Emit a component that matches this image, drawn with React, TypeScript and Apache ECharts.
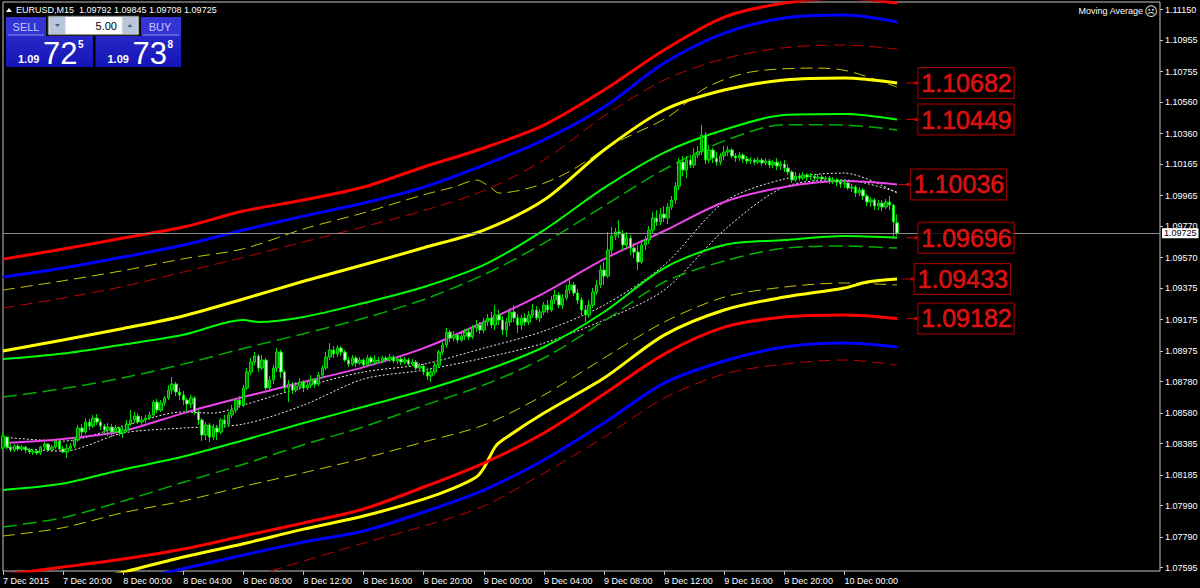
import React, { useEffect, useRef } from "react";
import * as echarts from "echarts";

// ---- axis data ----
const timeLabels = ["7 Dec 2015", "7 Dec 20:00", "8 Dec 00:00", "8 Dec 04:00", "8 Dec 08:00", "8 Dec 12:00", "8 Dec 16:00", "8 Dec 20:00", "9 Dec 00:00", "9 Dec 04:00", "9 Dec 08:00", "9 Dec 12:00", "9 Dec 16:00", "9 Dec 20:00", "10 Dec 00:00"];
const barsPerLabel = 16;
const slotCount = 309; // bars + empty right shift
const priceTicks = [1.1115, 1.10955, 1.10755, 1.1056, 1.1036, 1.10165, 1.09965, 1.0977, 1.0957, 1.09375, 1.09175, 1.08975, 1.0878, 1.0858, 1.08385, 1.08185, 1.0799, 1.0779, 1.07595];
const priceMin = 1.07573;
const priceMax = 1.11198;

// ---- candles: [open, close, low, high] ----
const candles = [
[1.08356,1.08433,1.08344,1.08452],[1.08426,1.08363,1.0835,1.08433],[1.08363,1.08344,1.08331,1.08382],[1.08344,1.08369,1.08331,1.08382],[1.08369,1.0835,1.08337,1.08382],
[1.0835,1.08363,1.08337,1.08376],[1.08363,1.08344,1.08325,1.08369],[1.08344,1.08331,1.08318,1.08356],[1.08331,1.08337,1.08312,1.0835],[1.08337,1.08325,1.08312,1.08344],
[1.08325,1.08363,1.08312,1.08369],[1.08363,1.08382,1.08344,1.08395],[1.08382,1.08344,1.08331,1.08388],[1.08344,1.08363,1.08331,1.08376],[1.08363,1.08401,1.0835,1.08414],
[1.08401,1.0835,1.08337,1.08407],[1.0835,1.08331,1.08325,1.08369],[1.08331,1.08356,1.08293,1.08382],[1.08356,1.08369,1.08337,1.08388],[1.08369,1.08407,1.08356,1.0842],
[1.08407,1.08484,1.08395,1.08503],[1.08484,1.08458,1.08433,1.08509],[1.08458,1.08522,1.08445,1.08547],[1.08522,1.08496,1.08471,1.08541],[1.08496,1.08547,1.08484,1.08567],
[1.08547,1.08522,1.08503,1.08573],[1.08522,1.08496,1.08471,1.08535],[1.08496,1.08471,1.08445,1.08509],[1.08471,1.0849,1.08433,1.08516],[1.0849,1.08458,1.08426,1.08509],
[1.08458,1.08484,1.08452,1.08503],[1.08484,1.08452,1.08433,1.0849],[1.08452,1.08471,1.0842,1.08496],[1.08471,1.08509,1.08458,1.08535],[1.08509,1.08535,1.08496,1.08598],
[1.08535,1.0856,1.08516,1.08586],[1.0856,1.08522,1.08509,1.08579],[1.08522,1.08535,1.08503,1.0856],[1.08535,1.08547,1.08516,1.08567],[1.08547,1.08567,1.08535,1.08586],
[1.08567,1.08649,1.08547,1.08662],[1.08649,1.08598,1.08579,1.08669],[1.08598,1.08643,1.08586,1.08662],[1.08643,1.08675,1.08624,1.08688],[1.08675,1.08726,1.08662,1.08758],
[1.08726,1.08764,1.087,1.08809],[1.08764,1.08713,1.08688,1.08777],[1.08713,1.08694,1.08662,1.08739],[1.08694,1.08662,1.0863,1.0872],[1.08662,1.08637,1.08586,1.08675],
[1.08637,1.08675,1.08611,1.08694],[1.08675,1.08586,1.08567,1.08688],[1.08586,1.08535,1.08503,1.08598],[1.08535,1.08439,1.08401,1.08547],[1.08439,1.08503,1.08407,1.08522],
[1.08503,1.08426,1.08395,1.08516],[1.08426,1.08484,1.08407,1.08509],[1.08484,1.08458,1.08407,1.08503],[1.08458,1.08535,1.08445,1.08547],[1.08535,1.08509,1.08484,1.08567],
[1.08509,1.08567,1.08496,1.08586],[1.08567,1.08598,1.08547,1.0863],[1.08598,1.08662,1.08579,1.08675],[1.08662,1.0863,1.08611,1.08688],[1.0863,1.08739,1.08617,1.08758],
[1.08739,1.08841,1.08726,1.08866],[1.08841,1.08904,1.08821,1.0893],[1.08904,1.08943,1.08885,1.08968],[1.08943,1.08866,1.08841,1.08955],[1.08866,1.08917,1.08853,1.08949],
[1.08917,1.08739,1.08726,1.0893],[1.08739,1.0879,1.08713,1.08815],[1.0879,1.08866,1.08764,1.08885],[1.08866,1.08968,1.08841,1.08994],[1.08968,1.08841,1.08802,1.08981],
[1.08841,1.08739,1.08713,1.08853],[1.08739,1.08764,1.08649,1.0879],[1.08764,1.08726,1.087,1.08777],[1.08726,1.08751,1.08713,1.08777],[1.08751,1.08777,1.08726,1.08802],
[1.08777,1.08739,1.08713,1.0879],[1.08739,1.08758,1.08726,1.08783],[1.08758,1.0879,1.08739,1.08821],[1.0879,1.08764,1.08739,1.08802],[1.08764,1.08821,1.08751,1.08841],
[1.08821,1.08866,1.08802,1.08885],[1.08866,1.08936,1.08853,1.08968],[1.08936,1.08981,1.08917,1.09025],[1.08981,1.08955,1.0893,1.09006],[1.08955,1.08994,1.08936,1.09013],
[1.08994,1.08968,1.08943,1.09006],[1.08968,1.08917,1.08904,1.08981],[1.08917,1.08891,1.08872,1.08936],[1.08891,1.0893,1.08879,1.08949],[1.0893,1.08898,1.08872,1.08943],
[1.08898,1.08917,1.08885,1.08936],[1.08917,1.08885,1.08872,1.0893],[1.08885,1.0893,1.08872,1.08949],[1.0893,1.08904,1.08891,1.08943],[1.08904,1.08917,1.08891,1.08949],
[1.08917,1.08911,1.08898,1.08936],[1.08911,1.0893,1.08898,1.08943],[1.0893,1.08917,1.08904,1.08943],[1.08917,1.08936,1.08904,1.08955],[1.08936,1.08911,1.08898,1.08949],
[1.08911,1.08923,1.08891,1.08943],[1.08923,1.08904,1.08885,1.08936],[1.08904,1.08917,1.08891,1.08936],[1.08917,1.08891,1.08879,1.0893],[1.08891,1.08904,1.08879,1.08923],
[1.08904,1.08866,1.08853,1.08917],[1.08866,1.08879,1.08847,1.08898],[1.08879,1.08841,1.08821,1.08891],[1.08841,1.08815,1.0879,1.08866],[1.08815,1.08841,1.08777,1.08866],
[1.08841,1.08885,1.08821,1.08904],[1.08885,1.08968,1.08866,1.08981],[1.08968,1.09013,1.08949,1.09032],[1.09013,1.09095,1.08994,1.09121],[1.09095,1.09057,1.09032,1.09108],
[1.09057,1.09076,1.09038,1.09102],[1.09076,1.09044,1.09025,1.09089],[1.09044,1.0907,1.09032,1.09095],[1.0907,1.09095,1.09044,1.09115],[1.09095,1.09064,1.09044,1.09121],
[1.09064,1.09121,1.09051,1.0914],[1.09121,1.0914,1.09095,1.09172],[1.0914,1.09108,1.09083,1.09159],[1.09108,1.09159,1.09089,1.09185],[1.09159,1.09185,1.09134,1.0921],
[1.09185,1.0914,1.09121,1.09223],[1.0914,1.09204,1.09108,1.09267],[1.09204,1.09172,1.0914,1.09236],[1.09172,1.09108,1.09076,1.09197],[1.09108,1.09159,1.09064,1.09185],
[1.09159,1.09223,1.09134,1.09248],[1.09223,1.09185,1.09159,1.09267],[1.09185,1.0914,1.09089,1.0921],[1.0914,1.09185,1.09108,1.09204],[1.09185,1.09159,1.09134,1.09216],
[1.09159,1.09204,1.0914,1.09229],[1.09204,1.09236,1.09185,1.09274],[1.09236,1.09185,1.09172,1.09261],[1.09185,1.09223,1.09159,1.09242],[1.09223,1.09267,1.09204,1.09287],
[1.09267,1.09236,1.09216,1.09299],[1.09236,1.09299,1.09223,1.09325],[1.09299,1.09331,1.09274,1.09363],[1.09331,1.09267,1.09248,1.0935],[1.09267,1.09312,1.09242,1.09338],
[1.09312,1.09363,1.09299,1.09395],[1.09363,1.09395,1.09338,1.09427],[1.09395,1.09344,1.09325,1.09414],[1.09344,1.09299,1.09274,1.09369],[1.09299,1.09236,1.09204,1.09318],
[1.09236,1.09204,1.09159,1.09267],[1.09204,1.09267,1.09185,1.09299],[1.09267,1.0935,1.09248,1.09376],[1.0935,1.09395,1.09331,1.09427],[1.09395,1.0949,1.09376,1.09522],
[1.0949,1.09452,1.09395,1.09541],[1.09452,1.09618,1.09439,1.09733],[1.09618,1.09707,1.09586,1.09764],[1.09707,1.09733,1.09682,1.09758],[1.09733,1.0972,1.09694,1.09809],
[1.0972,1.0965,1.09618,1.09745],[1.0965,1.09694,1.09631,1.09733],[1.09694,1.09631,1.09586,1.09713],[1.09631,1.09605,1.09567,1.09662],[1.09605,1.09541,1.0949,1.0965],
[1.09541,1.0965,1.09529,1.09682],[1.0965,1.09682,1.09618,1.09707],[1.09682,1.09745,1.09656,1.09771],[1.09745,1.09822,1.0972,1.0986],[1.09822,1.09796,1.09771,1.09873],
[1.09796,1.09847,1.09777,1.09885],[1.09847,1.09822,1.09796,1.09898],[1.09822,1.09892,1.09783,1.09917],[1.09892,1.09936,1.09873,1.09962],[1.09936,1.10025,1.09911,1.10051],
[1.10025,1.10178,1.1,1.10204],[1.10178,1.10127,1.10089,1.10217],[1.10127,1.10191,1.10076,1.10217],[1.10191,1.10159,1.1014,1.10223],[1.10159,1.10223,1.1014,1.10268],
[1.10223,1.10242,1.10204,1.1028],[1.10242,1.1035,1.10223,1.10414],[1.1035,1.10191,1.10166,1.1037],[1.10191,1.10255,1.10172,1.10287],[1.10255,1.10204,1.10172,1.10268],
[1.10204,1.10178,1.10153,1.10242],[1.10178,1.10217,1.10159,1.10236],[1.10217,1.10242,1.10191,1.1028],[1.10242,1.10255,1.10217,1.1028],[1.10255,1.10217,1.10204,1.10268],
[1.10217,1.10204,1.10178,1.10236],[1.10204,1.10223,1.10185,1.10242],[1.10223,1.10198,1.10172,1.10236],[1.10198,1.10185,1.10166,1.10217],[1.10185,1.10191,1.10166,1.1021],
[1.10191,1.10178,1.10159,1.10204],[1.10178,1.10191,1.10166,1.1021],[1.10191,1.10172,1.10153,1.10204],[1.10172,1.10185,1.10159,1.10204],[1.10185,1.10159,1.1014,1.10198],
[1.10159,1.10178,1.1014,1.10191],[1.10178,1.10153,1.10127,1.10204],[1.10153,1.10166,1.10127,1.10185],[1.10166,1.1014,1.10115,1.10191],[1.1014,1.10115,1.10096,1.10166],
[1.10115,1.10064,1.10045,1.10127],[1.10064,1.10089,1.10051,1.10115],[1.10089,1.10076,1.10057,1.10108],[1.10076,1.10096,1.10064,1.10115],[1.10096,1.10083,1.10057,1.10108],
[1.10083,1.10089,1.10064,1.10108],[1.10089,1.10076,1.10057,1.10102],[1.10076,1.10083,1.10057,1.10102],[1.10083,1.1007,1.10051,1.10096],[1.1007,1.10076,1.10051,1.10089],
[1.10076,1.10057,1.10038,1.10089],[1.10057,1.10064,1.10038,1.10083],[1.10064,1.10051,1.10025,1.10076],[1.10051,1.10038,1.10013,1.1007],[1.10038,1.10045,1.10013,1.10064],
[1.10045,1.10013,1.1,1.10057],[1.10013,1.10019,1.09987,1.10038],[1.10019,1.09981,1.09955,1.10032],[1.09981,1.1,1.09962,1.10019],[1.1,1.09962,1.09936,1.10013],
[1.09962,1.09924,1.09898,1.09975],[1.09924,1.09936,1.09892,1.09955],[1.09936,1.09898,1.09873,1.09949],[1.09898,1.09917,1.09873,1.09936],[1.09917,1.09892,1.09866,1.09936],
[1.09892,1.09924,1.09879,1.09943],[1.09924,1.09904,1.09873,1.09962],[1.09904,1.09796,1.09701,1.09911],[1.09792,1.09725,1.09708,1.09845]
];
const askPrice = 1.09738;
const lotSize = "5.00";

// ---- indicator lines: [bar index, price] ----
const upperRedThick = [[0,1.0956],[16,1.09624],[32,1.09694],[48,1.09764],[64,1.09866],[80,1.09936],[96,1.10019],[112,1.10147],[128,1.10268],[144,1.10414],[160,1.10637],[176,1.10892],[192,1.11102],[208,1.11191],[224,1.11223],[238,1.11191]];
const upperBlueThick = [[0,1.09446],[16,1.09503],[32,1.09573],[48,1.0965],[64,1.09745],[80,1.09834],[96,1.09917],[112,1.10019],[128,1.10159],[144,1.10319],[160,1.10529],[176,1.10809],[192,1.11],[208,1.11096],[224,1.11115],[238,1.11071]];
const upperRedDash = [[0,1.09248],[16,1.09312],[32,1.09386],[48,1.09478],[64,1.09571],[80,1.09669],[96,1.09766],[112,1.09869],[128,1.09996],[144,1.10193],[160,1.10471],[176,1.10701],[192,1.10837],[208,1.10907],[224,1.10924],[238,1.10898]];
const upperYellowDash = [[0,1.09363],[16,1.09422],[32,1.09487],[48,1.09562],[64,1.09626],[80,1.09752],[96,1.09855],[112,1.0997],[120,1.10019],[126,1.10064],[130,1.10013],[132,1.09981],[141,1.10019],[150,1.10108],[163,1.103],[177,1.10465],[187,1.1065],[199,1.10752],[217,1.10777],[225,1.10758],[238,1.10656]];
const upperYellowThick = [[0,1.08974],[16,1.09045],[32,1.09118],[48,1.09198],[64,1.09306],[80,1.09419],[96,1.09524],[112,1.09632],[128,1.09745],[144,1.09936],[160,1.10255],[176,1.1051],[192,1.10637],[208,1.10701],[224,1.10714],[238,1.10682]];
const upperGreenDash = [[0,1.08681],[16,1.08735],[32,1.08804],[48,1.08891],[64,1.08991],[80,1.09085],[96,1.09183],[112,1.09303],[128,1.0946],[144,1.09662],[160,1.09899],[176,1.10131],[192,1.10313],[208,1.10416],[224,1.10414],[238,1.10382]];
const upperGreenThick = [[0,1.08923],[16,1.08958],[32,1.09016],[48,1.09078],[64,1.09172],[68,1.09159],[80,1.09191],[96,1.0928],[112,1.09382],[128,1.09523],[144,1.09745],[160,1.10014],[176,1.10239],[192,1.10384],[208,1.10478],[224,1.10484],[238,1.10449]];
const movingAverage = [[0,1.08388],[16,1.08414],[32,1.08465],[48,1.08579],[64,1.08681],[80,1.08777],[96,1.08872],[112,1.08993],[128,1.09159],[144,1.09344],[160,1.0956],[176,1.09739],[192,1.09924],[208,1.10019],[224,1.10057],[238,1.10036]];
const whiteUpper = [[0,1.08426],[16,1.08401],[32,1.08497],[48,1.08586],[56,1.08579],[64,1.0863],[80,1.08745],[96,1.08841],[112,1.08891],[128,1.08993],[144,1.09102],[160,1.09267],[176,1.09522],[192,1.09924],[208,1.1007],[224,1.10108],[238,1.09981]];
const whiteLower = [[0,1.08363],[16,1.08337],[32,1.08452],[48,1.08484],[64,1.08509],[80,1.0863],[96,1.08796],[112,1.08853],[128,1.0893],[144,1.09025],[160,1.09172],[176,1.09363],[192,1.09745],[208,1.10019],[224,1.10064],[238,1.09987]];
const lowerGreenThick = [[0,1.08089],[16,1.0813],[32,1.0822],[48,1.08302],[64,1.08406],[80,1.08516],[96,1.08619],[112,1.08724],[128,1.08847],[144,1.09],[160,1.09223],[176,1.09503],[192,1.0965],[208,1.09681],[224,1.09707],[238,1.09696]];
const lowerGreenDash = [[0,1.07853],[16,1.07913],[32,1.08019],[48,1.08138],[64,1.08253],[80,1.08377],[96,1.08492],[112,1.08627],[128,1.08758],[144,1.0893],[160,1.09165],[176,1.09414],[192,1.09548],[208,1.0963],[224,1.09643],[238,1.0963]];
const lowerYellowDash = [[0,1.07796],[16,1.07849],[32,1.07945],[48,1.08019],[64,1.08112],[80,1.08199],[96,1.08291],[112,1.08395],[128,1.08503],[144,1.08694],[160,1.0893],[176,1.09159],[192,1.09318],[208,1.09382],[224,1.09408],[238,1.09395]];
const lowerYellowThick = [[0,1.07375],[32,1.07566],[48,1.07662],[64,1.07747],[80,1.0784],[96,1.07923],[112,1.08031],[120,1.08101],[126,1.08172],[128,1.08229],[131,1.08363],[133,1.08407],[144,1.08579],[160,1.08802],[176,1.09076],[192,1.09236],[208,1.09318],[224,1.09376],[230,1.09414],[238,1.09433]];
const lowerRedThick = [[0,1.07548],[16,1.07598],[32,1.07649],[48,1.07713],[64,1.07796],[80,1.07879],[96,1.07968],[112,1.08108],[128,1.08261],[144,1.08452],[160,1.087],[176,1.08955],[192,1.09127],[208,1.09191],[224,1.09204],[238,1.09182]];
const lowerBlueThick = [[0,1.07311],[16,1.07407],[32,1.07496],[44,1.07566],[64,1.07675],[80,1.07757],[96,1.07828],[112,1.07949],[128,1.08089],[144,1.0828],[160,1.08516],[176,1.0877],[192,1.08911],[208,1.09],[224,1.09025],[238,1.09]];
const lowerRedDash = [[48,1.07413],[64,1.07522],[80,1.07636],[96,1.07751],[112,1.07859],[128,1.07987],[144,1.08197],[160,1.08426],[176,1.08675],[192,1.08828],[208,1.08891],[224,1.08917],[238,1.08885]];

// ---- price level labels ----
const levelValues = [1.10682, 1.10449, 1.10036, 1.09696, 1.09433, 1.09182];
const levelBars = [243, 243, 241, 243, 242, 243];

const FONT = '"Liberation Sans", Arial, sans-serif';

function lineSeries(data: number[][], color: string, width: number, dash?: number[]) {
  return {
    type: "line",
    data,
    showSymbol: false,
    symbol: "none",
    smooth: 0.3,
    silent: true,
    clip: true,
    z: 2,
    lineStyle: { color, width, type: dash ? dash : "solid", cap: "butt" },
  };
}

function buildOption() {
  const last = candles[candles.length - 1];
  const lastClose = last[1];
  const header = `EURUSD,M15  ${last[0].toFixed(5)} ${last[3].toFixed(5)} ${last[2].toFixed(5)} ${last[1].toFixed(5)}`;
  const bidS = lastClose.toFixed(5);
  const askS = askPrice.toFixed(5);
  const slots = Array.from({ length: slotCount }, (_, i) => String(i));
  const showLabel = (i: number) => i % barsPerLabel === 0 && i / barsPerLabel < timeLabels.length;

  const btnText = (t: string, x: number) => ({
    type: "text", x, y: 26.5,
    style: { text: t, fill: "#c8c8ff", font: `11px ${FONT}`, align: "center", verticalAlign: "middle" },
  });

  const priceBox = (s: string, x0: number, w: number) => [
    {
      type: "rect", shape: { x: x0, y: 36, width: w, height: 31 },
      style: { fill: new echarts.graphic.LinearGradient(0, 0, 0, 1, [{ offset: 0, color: "#2828c8" }, { offset: 1, color: "#1414b8" }]) },
    },
    { type: "text", x: x0 + 12, y: 59, style: { text: s.slice(0, 4), fill: "#ffffff", font: `bold 11px ${FONT}`, verticalAlign: "middle" } },
    { type: "text", x: x0 + 37, y: 53, style: { text: s.slice(4, 6), fill: "#ffffff", font: `31px ${FONT}`, verticalAlign: "middle" } },
    { type: "text", x: x0 + 72, y: 44, style: { text: s.slice(6), fill: "#ffffff", font: `bold 10px ${FONT}`, verticalAlign: "middle" } },
  ];

  return {
    animation: false,
    backgroundColor: "#000000",
    grid: { left: 3, right: 40, top: 2, bottom: 17, show: true, borderColor: "#c4c4c4", borderWidth: 1, containLabel: false, outerBoundsMode: "none" },
    xAxis: {
      type: "category",
      data: slots,
      boundaryGap: false,
      axisLine: { show: false },
      axisTick: { show: true, interval: showLabel, length: 4, lineStyle: { color: "#c4c4c4" } },
      axisLabel: {
        show: true, interval: showLabel, align: "left", margin: 5,
        color: "#ffffff", fontSize: 9, fontFamily: FONT,
        formatter: (_v: string, i: number) => timeLabels[i / barsPerLabel] ?? "",
      },
      splitLine: { show: false },
    },
    yAxis: {
      type: "value",
      position: "right",
      min: priceMin,
      max: priceMax,
      axisLine: { show: false },
      axisTick: { show: true, customValues: priceTicks, length: 3, lineStyle: { color: "#c4c4c4" } },
      axisLabel: {
        customValues: priceTicks, margin: 5, color: "#ffffff", fontSize: 9, fontFamily: FONT,
        formatter: (v: number) => v.toFixed(5),
      },
      splitLine: { show: false },
    },
    series: [
      lineSeries(upperRedThick, "#ff0000", 3),
      lineSeries(upperBlueThick, "#0000ff", 3),
      lineSeries(upperRedDash, "#c00000", 1, [12, 6]),
      lineSeries(upperYellowDash, "#c8c800", 1, [12, 6]),
      lineSeries(upperYellowThick, "#ffff00", 3),
      lineSeries(upperGreenDash, "#00b000", 1.5, [14, 6]),
      lineSeries(upperGreenThick, "#00ff00", 2),
      lineSeries(whiteUpper, "#eeeeee", 1, [2, 2]),
      lineSeries(whiteLower, "#eeeeee", 1, [2, 2]),
      lineSeries(movingAverage, "#ee44ee", 2),
      lineSeries(lowerGreenThick, "#00ff00", 2),
      lineSeries(lowerGreenDash, "#00b000", 1.5, [14, 6]),
      lineSeries(lowerYellowDash, "#c8c800", 1, [12, 6]),
      lineSeries(lowerYellowThick, "#ffff00", 3),
      lineSeries(lowerRedThick, "#ff0000", 3),
      lineSeries(lowerBlueThick, "#0000ff", 3),
      lineSeries(lowerRedDash, "#c00000", 1, [12, 6]),
      {
        type: "candlestick",
        data: candles,
        barWidth: 3,
        silent: true,
        z: 3,
        itemStyle: { color: "#007a00", color0: "#d6ffd6", borderColor: "#00e000", borderColor0: "#00e000", borderWidth: 1 },
        markLine: {
          silent: true,
          symbol: "none",
          precision: 5,
          lineStyle: { color: "#8c8c8c", width: 1, type: "solid" },
          label: {
            show: true, position: "end", distance: 2,
            formatter: () => lastClose.toFixed(5),
            color: "#000000", backgroundColor: "#ffffff", fontSize: 9, fontFamily: FONT, padding: [1, 2, 0, 2],
          },
          data: [{ yAxis: lastClose }],
        },
      },
      {
        type: "scatter",
        data: levelValues.map((v, i) => [String(levelBars[i]), v]),
        symbol: "path://M0 1H8V0H11V3H8V2H0Z",
        symbolSize: [11, 3],
        symbolOffset: [-4, 0],
        silent: true,
        z: 10,
        itemStyle: { color: "#ff0000" },
        label: {
          show: true, position: "right", distance: 1,
          formatter: (p: any) => Number(p.value[1]).toFixed(5),
          color: "#ff1a1a", fontSize: 25, fontFamily: FONT, lineHeight: 28,
          textBorderColor: "#ff0000", textBorderWidth: 0.7,
          backgroundColor: "#000000", borderColor: "#c00000", borderWidth: 1, padding: [2, 2, 0, 3],
        },
      },
    ],
    graphic: [
      { type: "polygon", shape: { points: [[6, 12], [9, 8], [12, 12]] }, style: { fill: "#ffffff" } },
      { type: "text", x: 16, y: 10, style: { text: header, fill: "#ffffff", font: `9px ${FONT}`, verticalAlign: "middle" } },
      { type: "rect", shape: { x: 6, y: 17, width: 40, height: 19 }, style: { fill: "#3434d4" } },
      { type: "rect", shape: { x: 8, y: 34.5, width: 36, height: 1 }, style: { fill: "#8a8af0" } },
      btnText("SELL", 26),
      { type: "rect", shape: { x: 48, y: 16, width: 91, height: 19 }, style: { fill: "#e8e8e8", stroke: "#404040", lineWidth: 1 } },
      { type: "rect", shape: { x: 49.5, y: 17, width: 15.5, height: 17 }, style: { fill: "#b8c6dc" } },
      { type: "rect", shape: { x: 66, y: 17, width: 55.5, height: 17 }, style: { fill: "#ffffff" } },
      { type: "rect", shape: { x: 122.5, y: 17, width: 15, height: 17 }, style: { fill: "#b8c6dc" } },
      { type: "polygon", shape: { points: [[55, 24], [60, 24], [57.5, 27]] }, style: { fill: "#50607a" } },
      { type: "polygon", shape: { points: [[127.5, 27], [132.5, 27], [130, 24]] }, style: { fill: "#50607a" } },
      { type: "text", x: 117, y: 26, style: { text: lotSize, fill: "#000000", font: `11px ${FONT}`, align: "right", verticalAlign: "middle" } },
      { type: "rect", shape: { x: 141, y: 17, width: 40, height: 19 }, style: { fill: "#3434d4" } },
      { type: "rect", shape: { x: 143, y: 34.5, width: 36, height: 1 }, style: { fill: "#8a8af0" } },
      btnText("BUY", 160),
      ...priceBox(bidS, 6, 87),
      ...priceBox(askS, 95.5, 85.5),
      { type: "text", x: 1143, y: 11, style: { text: "Moving Average", fill: "#ffffff", font: `9px ${FONT}`, align: "right", verticalAlign: "middle" } },
      { type: "text", x: 1151, y: 11, style: { text: "\u2639", fill: "#dddddd", font: `13px "DejaVu Sans"`, align: "center", verticalAlign: "middle" } },
    ],
  };
}

export default function App() {
  const ref = useRef<HTMLDivElement>(null);
  useEffect(() => {
    if (!ref.current) return;
    const chart = echarts.init(ref.current, null, { renderer: "svg" });
    chart.setOption(buildOption() as any);
    return () => chart.dispose();
  }, []);
  return (
    <div
      ref={ref}
      style={{ position: "fixed", left: 0, top: 0, width: 1200, height: 588, background: "#000" }}
    />
  );
}
